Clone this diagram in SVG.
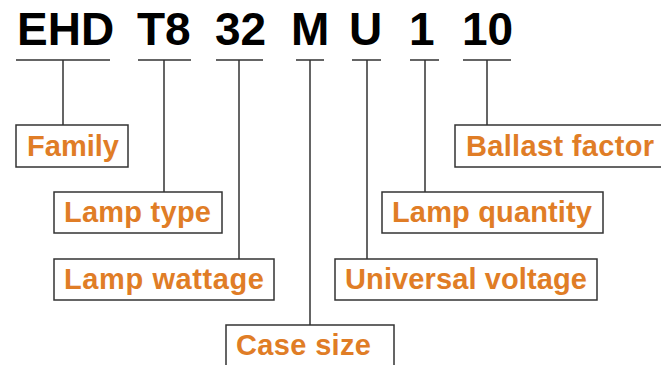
<svg xmlns="http://www.w3.org/2000/svg" width="661" height="365" viewBox="0 0 661 365">
<style>
.code{font-family:"Liberation Sans",Arial,sans-serif;font-weight:bold;font-size:46px;fill:#000}
.lbl{font-family:"Liberation Sans",Arial,sans-serif;font-weight:bold;font-size:29px;fill:#e07d26}
.box{fill:#fff;stroke:#333;stroke-width:1.5}
.ln{stroke:#333;stroke-width:1.5;fill:none}
</style>
<rect width="661" height="365" fill="#fff"/>
<g id="code">
<text class="code" x="17" y="45">EHD</text>
<text class="code" x="137" y="45">T8</text>
<text class="code" x="215" y="45">32</text>
<text class="code" x="291" y="45">M</text>
<text class="code" x="349" y="45">U</text>
<text class="code" x="409" y="45">1</text>
<text class="code" x="462" y="45">10</text>
</g>
<g id="connectors">
<path class="ln" d="M16 60H110M63 60V125"/>
<path class="ln" d="M138 60H191M164 60V192"/>
<path class="ln" d="M216 60H263M239 60V259"/>
<path class="ln" d="M296 60H324M310 60V325"/>
<path class="ln" d="M352 60H381M367 60V259"/>
<path class="ln" d="M410 60H439M425 60V192"/>
<path class="ln" d="M463 60H511M487 60V125"/>
</g>
<g id="family"><rect class="box" x="16" y="125" width="112" height="42"/><text class="lbl" x="27" y="156" textLength="92" lengthAdjust="spacing">Family</text></g>
<g id="lamp-type"><rect class="box" x="54" y="192" width="168" height="41"/><text class="lbl" x="64" y="222" textLength="147" lengthAdjust="spacing">Lamp type</text></g>
<g id="lamp-wattage"><rect class="box" x="54" y="259" width="220" height="41"/><text class="lbl" x="64" y="289" textLength="200" lengthAdjust="spacing">Lamp wattage</text></g>
<g id="case-size"><rect class="box" x="226" y="325" width="168" height="50"/><text class="lbl" x="236" y="355" textLength="135" lengthAdjust="spacing">Case size</text></g>
<g id="universal-voltage"><rect class="box" x="335" y="259" width="262" height="41"/><text class="lbl" x="345" y="289" textLength="242" lengthAdjust="spacing">Universal voltage</text></g>
<g id="lamp-quantity"><rect class="box" x="382" y="192" width="221" height="41"/><text class="lbl" x="392" y="222" textLength="200" lengthAdjust="spacing">Lamp quantity</text></g>
<g id="ballast-factor"><rect class="box" x="455" y="125" width="215" height="42"/><text class="lbl" x="466" y="156" textLength="188" lengthAdjust="spacing">Ballast factor</text></g>
</svg>
